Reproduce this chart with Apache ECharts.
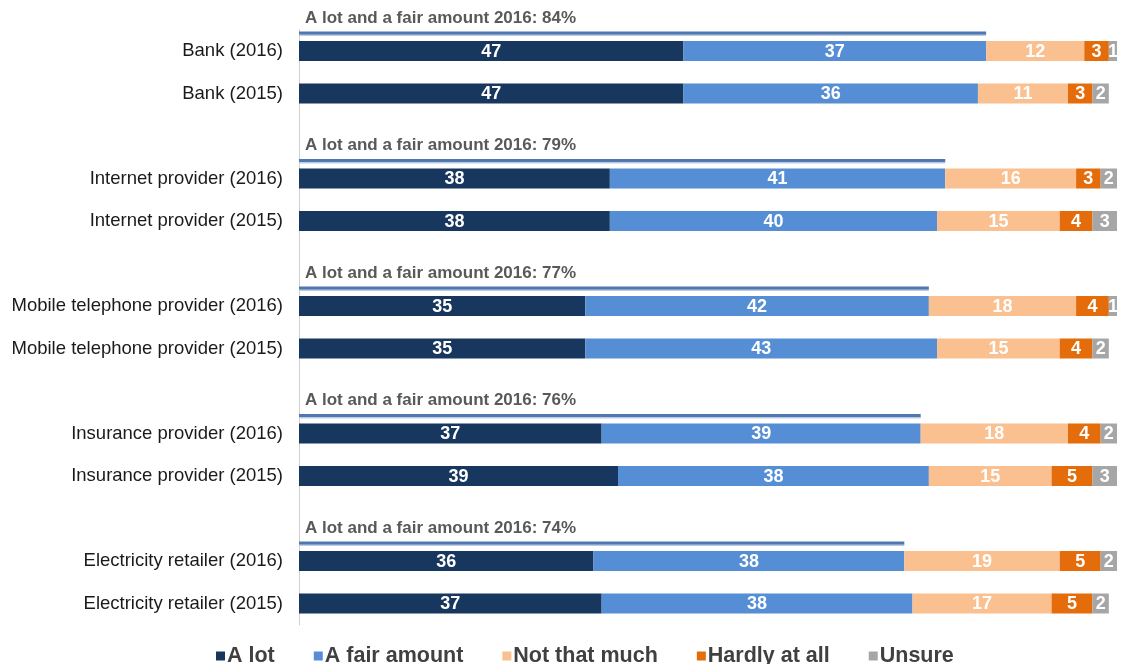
<!DOCTYPE html>
<html>
<head>
<meta charset="utf-8">
<script src="https://cdn.jsdelivr.net/npm/echarts@6/dist/echarts.min.js"></script>
<style>
  html, body { margin: 0; padding: 0; background: #ffffff; }
  #chart { width: 1123px; height: 664px; }
</style>
</head>
<body>
<div id="chart"></div>
<script>
// Trust in service providers, 2016 vs 2015 (%)
const categories = [
  'Bank (2016)', 'Bank (2015)',
  'Internet provider (2016)', 'Internet provider (2015)',
  'Mobile telephone provider (2016)', 'Mobile telephone provider (2015)',
  'Insurance provider (2016)', 'Insurance provider (2015)',
  'Electricity retailer (2016)', 'Electricity retailer (2015)'
];
const aLot         = [47, 47, 38, 38, 35, 35, 37, 39, 36, 37];
const aFairAmount  = [37, 36, 41, 40, 42, 43, 39, 38, 38, 38];
const notThatMuch  = [12, 11, 16, 15, 18, 15, 18, 15, 19, 17];
const hardlyAtAll  = [3, 3, 3, 4, 4, 4, 4, 5, 5, 5];
const unsure       = [1, 2, 2, 3, 1, 2, 2, 3, 2, 2];
// "A lot" + "A fair amount" for the 2016 row of each provider
const combined2016 = [84, 79, 77, 76, 74];

const seriesNames = ['A lot', 'A fair amount', 'Not that much', 'Hardly at all', 'Unsure'];
const seriesColors = ['#17375e', '#558ed5', '#fac090', '#e46c0a', '#a6a6a6'];

// Two rows per provider, with an empty slot between providers for the summary line
const slotLabels = [];
const rowToSlot = [];
categories.forEach((c, i) => {
  if (i > 0 && i % 2 === 0) slotLabels.push('');
  rowToSlot.push(slotLabels.length);
  slotLabels.push(c);
});
function toSlots(values) {
  const out = slotLabels.map(() => '-');
  values.forEach((v, i) => { out[rowToSlot[i]] = v; });
  return out;
}

const seriesValues = [aLot, aFairAmount, notThatMuch, hardlyAtAll, unsure];
const barSeries = seriesValues.map((vals, k) => ({
  name: seriesNames[k],
  type: 'bar',
  stack: 'total',
  barWidth: 20,
  data: toSlots(vals),
  itemStyle: { color: seriesColors[k] },
  label: {
    show: true,
    position: 'inside',
    color: '#ffffff',
    fontFamily: 'Liberation Sans, Arial, sans-serif',
    fontWeight: 'bold',
    fontSize: 18,
    offset: [0, 1]
  },
  emphasis: { disabled: true }
}));

const summaryData = combined2016.map((v, g) => [v, rowToSlot[g * 2]]);
const summarySeries = {
  type: 'custom',
  clip: false,
  silent: true,
  data: summaryData,
  renderItem: function (params, api) {
    const v = api.value(0);
    const slot = api.value(1);
    const p0 = api.coord([0, slot]);
    const p1 = api.coord([v, slot]);
    const y = p0[1] - 18;
    return {
      type: 'group',
      children: [
        { type: 'line', shape: { x1: p0[0], y1: y + 2, x2: p1[0], y2: y + 2 },
          style: { stroke: '#b9cce4', lineWidth: 2 } },
        { type: 'line', shape: { x1: p0[0], y1: y, x2: p1[0], y2: y },
          style: { stroke: '#4f78b0', lineWidth: 3 } },
        { type: 'text', x: p0[0] + 6, y: p0[1] - 33,
          style: {
            text: 'A lot and a fair amount 2016: ' + v + '%',
            fill: '#595959',
            font: 'bold 17px "Liberation Sans", Arial, sans-serif',
            verticalAlign: 'middle',
            align: 'left'
          } }
      ]
    };
  }
};

const chart = echarts.init(document.getElementById('chart'), null, { renderer: 'canvas' });
chart.setOption({
  animation: false,
  backgroundColor: '#ffffff',
  grid: { left: 299, right: 6, top: 29.75, bottom: 39.25, containLabel: false },
  xAxis: {
    type: 'value', min: 0, max: 100, show: false
  },
  yAxis: {
    type: 'category',
    inverse: true,
    data: slotLabels,
    axisLine: { show: true, lineStyle: { color: '#c8c8c8', type: 'dotted', width: 1 } },
    axisTick: { show: false },
    axisLabel: {
      color: '#1a1a1a',
      fontFamily: 'Liberation Sans, Arial, sans-serif',
      fontSize: 18.5,
      margin: 16
    }
  },
  legend: {
    data: seriesNames,
    left: 211,
    top: 640,
    icon: 'rect',
    itemWidth: 9,
    itemHeight: 9,
    itemGap: 39,
    selectedMode: false,
    textStyle: {
      color: '#404040',
      fontFamily: 'Liberation Sans, Arial, sans-serif',
      fontWeight: 'bold',
      fontSize: 21.5,
      padding: [0, 0, 0, -3]
    }
  },
  series: barSeries.concat([summarySeries])
});
</script>
</body>
</html>
